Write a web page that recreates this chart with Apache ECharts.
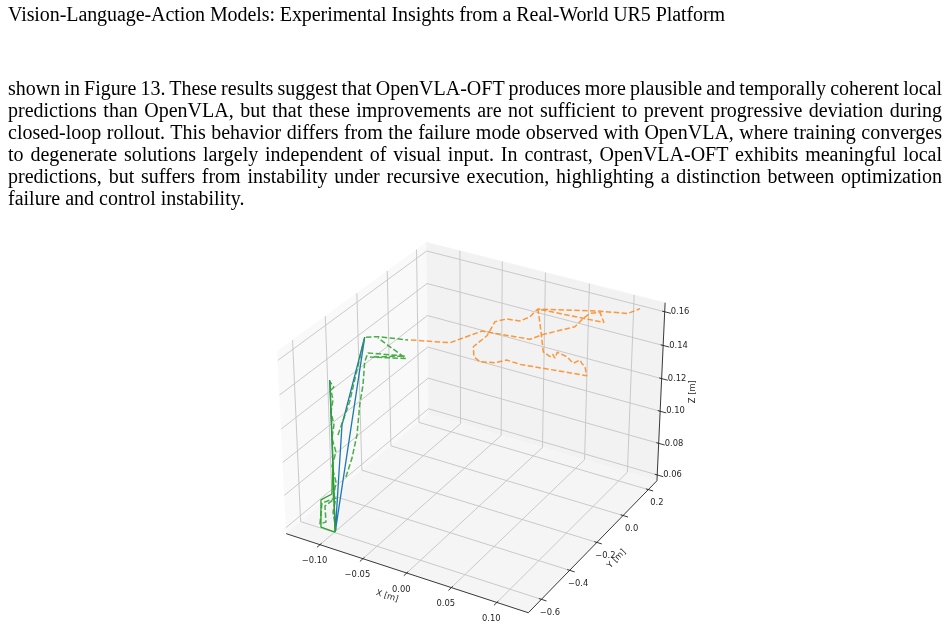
<!DOCTYPE html>
<html><head><meta charset="utf-8">
<script src="https://cdn.jsdelivr.net/npm/echarts@6/dist/echarts.min.js"></script>
<style>
html,body{margin:0;padding:0;background:#fff;width:949px;height:631px;overflow:hidden}
#chart{position:absolute;left:0;top:0;width:949px;height:631px}
#header{position:absolute;left:8px;top:3px;font-family:"Liberation Serif",serif;font-size:20px;line-height:22px;white-space:nowrap;color:#000;letter-spacing:-0.08px}
#para{position:absolute;left:8px;top:77px;width:934px;font-family:"Liberation Serif",serif;font-size:20px;line-height:22px;color:#000}
#para div{text-align:justify;text-align-last:justify;white-space:nowrap;word-spacing:-2.5px}
#para div.last{text-align-last:left;word-spacing:0}
</style></head>
<body>
<div id="chart"></div>
<div id="header">Vision-Language-Action Models: Experimental Insights from a Real-World UR5 Platform</div>
<div id="para">
<div>shown in Figure 13. These results suggest that OpenVLA-OFT produces more plausible and temporally coherent local</div>
<div>predictions than OpenVLA, but that these improvements are not sufficient to prevent progressive deviation during</div>
<div>closed-loop rollout. This behavior differs from the failure mode observed with OpenVLA, where training converges</div>
<div>to degenerate solutions largely independent of visual input. In contrast, OpenVLA-OFT exhibits meaningful local</div>
<div>predictions, but suffers from instability under recursive execution, highlighting a distinction between optimization</div>
<div class="last">failure and control instability.</div>
</div>
<script>
// ---------------- data (metres) ----------------
const xTicks = [-0.10, -0.05, 0.00, 0.05, 0.10];
const yTicks = [-0.6, -0.4, -0.2, 0.0, 0.2];
const zTicks = [0.06, 0.08, 0.10, 0.12, 0.14, 0.16];
const xTickLabels = ['\u22120.10', '\u22120.05', '0.00', '0.05', '0.10'];
const yTickLabels = ['\u22120.6', '\u22120.4', '\u22120.2', '0.0', '0.2'];
const zTickLabels = ['0.06', '0.08', '0.10', '0.12', '0.14', '0.16'];
const xLim = [-0.140, 0.134];
const yLim = [-0.69, 0.27];
const zLim = [0.0563, 0.1653];

const blueX = [-0.1368, -0.0946, -0.1175, -0.1152, -0.0946];
const blueY = [-0.4036, -0.6213, -0.2786, -0.4498, -0.6213];
const blueZ = [0.1283, 0.0595, 0.1478, 0.1079, 0.0595];

const greenSolidX = [-0.1364, -0.1143, -0.0948, -0.1080, -0.1147, -0.1067, -0.1143];
const greenSolidY = [-0.4046, -0.5178, -0.6222, -0.6390, -0.5985, -0.5705, -0.5178];
const greenSolidZ = [0.1279, 0.0920, 0.0593, 0.0616, 0.0739, 0.0766, 0.0920];

const greenDashAX = [-0.0944, -0.1014, -0.1023, -0.1131, -0.1096, -0.1049, -0.1098, -0.1044, -0.1063,
  -0.1136, -0.1137, -0.1206, -0.1221, -0.1278, -0.1291, -0.1333, -0.1315, -0.1361];
const greenDashAY = [-0.6175, -0.5957, -0.5696, -0.6013, -0.6362, -0.6228, -0.6006, -0.5777, -0.5456,
  -0.5285, -0.5006, -0.4866, -0.4636, -0.4493, -0.4279, -0.4164, -0.4067, -0.4061];
const greenDashAZ = [0.0603, 0.0684, 0.0748, 0.0725, 0.0630, 0.0639, 0.0711, 0.0739, 0.0820,
  0.0893, 0.0956, 0.1020, 0.1079, 0.1138, 0.1192, 0.1238, 0.1251, 0.1274];

const greenDashBX = [-0.1162, -0.1144, -0.1175, -0.1062, -0.0797];
const greenDashBY = [-0.4717, -0.4015, -0.2791, -0.2552, -0.2082];
const greenDashBZ = [0.1034, 0.1185, 0.1477, 0.1480, 0.1465];

const greenDashCX = [-0.0990, -0.0985, -0.0999, -0.1050, -0.1071, -0.1114, -0.1108, -0.0784, -0.1081, -0.0769, -0.1059];
const greenDashCY = [-0.5208, -0.4819, -0.4388, -0.3892, -0.3535, -0.3161, -0.2969, -0.2374, -0.2994, -0.2394, -0.2571];
const greenDashCZ = [0.0843, 0.0929, 0.1034, 0.1170, 0.1260, 0.1365, 0.1406, 0.1392, 0.1387, 0.1381, 0.1474];

const orangeX = [-0.0772, -0.0432, -0.0187, 0.0245, 0.0346, 0.0598, 0.0649, 0.0694, 0.0777, 0.0836,
  0.0238, 0.0307, 0.0389, 0.0459, 0.0476, 0.0505, 0.0510, 0.0602, 0.0674, 0.0724, 0.0746, 0.0782, 0.0820,
  0.0221, 0.0096, 0.0003, -0.0128, -0.0192, -0.0222, -0.0132, -0.0098, -0.0005, 0.0114, 0.0189, 0.0219,
  0.0238, 0.0756, 0.1019, 0.1110];
const orangeY = [-0.2030, -0.1396, -0.0667, 0.0040, 0.0345, 0.1007, 0.1277, 0.1468, 0.1656, 0.1572,
  0.0632, 0.0391, 0.0084, 0.0125, 0.0208, 0.0188, 0.0317, 0.0414, 0.0429, 0.0595, 0.0575, 0.0584, 0.0475,
  -0.0508, -0.0674, -0.0917, -0.1161, -0.1190, -0.1052, -0.0651, -0.0302, -0.0059, 0.0141, 0.0378, 0.0540,
  0.0632, 0.1640, 0.2122, 0.2405];
const orangeZ = [0.1465, 0.1452, 0.1505, 0.1468, 0.1490, 0.1525, 0.1563, 0.1586, 0.1590, 0.1544,
  0.1605, 0.1519, 0.1411, 0.1389, 0.1400, 0.1382, 0.1409, 0.1389, 0.1359, 0.1374, 0.1359, 0.1344, 0.1303,
  0.1354, 0.1374, 0.1362, 0.1366, 0.1389, 0.1434, 0.1484, 0.1548, 0.1560, 0.1551, 0.1570, 0.1593,
  0.1605, 0.1596, 0.1585, 0.1607];

// ---------------- matplotlib-like 3D projection ----------------
const D2R = Math.PI / 180, ELEV = 30 * D2R, AZIM = -60 * D2R, DIST = 10;
let AS = [4, 4, 3];
const asn = Math.hypot(AS[0], AS[1], AS[2]);
AS = AS.map(v => v * 1.8294640721620434 * 25 / 24 / asn);
const W3 = [Math.cos(ELEV) * Math.cos(AZIM), Math.cos(ELEV) * Math.sin(AZIM), Math.sin(ELEV)];
let U3 = [-W3[1], W3[0], 0];
const un = Math.hypot(U3[0], U3[1]);
U3 = U3.map(c => c / un);
const V3 = [W3[1] * U3[2] - W3[2] * U3[1], W3[2] * U3[0] - W3[0] * U3[2], W3[0] * U3[1] - W3[1] * U3[0]];
const dot = (a, b) => a[0] * b[0] + a[1] * b[1] + a[2] * b[2];
function proj(x, y, z) {
  const q = [(x - xLim[0]) / (xLim[1] - xLim[0]) * AS[0] - AS[0] / 2,
             (y - yLim[0]) / (yLim[1] - yLim[0]) * AS[1] - AS[1] / 2,
             (z - zLim[0]) / (zLim[1] - zLim[0]) * AS[2] - AS[2] / 2];
  const d = DIST - dot(q, W3);
  return [dot(q, U3) / d, dot(q, V3) / d];
}
const series3 = (X, Y, Z) => X.map((v, i) => proj(v, Y[i], Z[i]));

// ---------------- page placement of the 3D box ----------------
const PW = 949, PH = 631, SCALE = 2330, OX = 475, OY = 418.6;

const [x0, x1] = xLim, [y0, y1] = yLim, [z0, z1] = zLim;
const panes = [
  [[x0, y0, z0], [x0, y1, z0], [x0, y1, z1], [x0, y0, z1]],   // left pane (x = x0)
  [[x0, y1, z0], [x1, y1, z0], [x1, y1, z1], [x0, y1, z1]],   // back pane (y = y1)
  [[x0, y0, z0], [x1, y0, z0], [x1, y1, z0], [x0, y1, z0]]    // floor (z = z0)
];
const paneColors = ['#f9f9f9', '#f2f2f2', '#f5f5f5'];

const gridSegs = [];
xTicks.forEach(t => { gridSegs.push([[t, y0, z0], [t, y1, z0]]); gridSegs.push([[t, y1, z0], [t, y1, z1]]); });
yTicks.forEach(t => { gridSegs.push([[x0, t, z0], [x1, t, z0]]); gridSegs.push([[x0, t, z0], [x0, t, z1]]); });
zTicks.forEach(t => { gridSegs.push([[x0, y0, t], [x0, y1, t]]); gridSegs.push([[x0, y1, t], [x1, y1, t]]); });

const yr = y1 - y0, xr = x1 - x0;
const axisSegs = [
  [[x0, y0, z0], [x1, y0, z0]],
  [[x1, y0, z0], [x1, y1, z0]],
  [[x1, y1, z0], [x1, y1, z1]]
];
xTicks.forEach(t => axisSegs.push([[t, y0 + 0.01 * yr, z0], [t, y0 - 0.02 * yr, z0]]));
yTicks.forEach(t => axisSegs.push([[x1 - 0.01 * xr, t, z0], [x1 + 0.02 * xr, t, z0]]));
zTicks.forEach(t => axisSegs.push([[x1 - 0.01 * xr, y1, t], [x1 + 0.025 * xr, y1, t]]));

const toLines = segs => segs.map(s => ({ coords: [proj(...s[0]), proj(...s[1])] }));

// labels: [anchor point (3D), text, dx, dy, align, rotation]
const labels = [];
xTicks.forEach((t, i) => labels.push([[t, y0, z0], xTickLabels[i], -5.5, 16.5, 'center', 0]));
yTicks.forEach((t, i) => labels.push([[x1, t, z0], yTickLabels[i], 8.5, 13.5, 'center', 0]));
zTicks.forEach((t, i) => labels.push([[x1, y1, t], zTickLabels[i], 6, 0, 'left', 0]));
labels.push([[(x0 + x1) / 2, y0, z0], 'X [m]', -17, 24, 'center', -17.7 * D2R]);
labels.push([[x1, (y0 + y1) / 2, z0], 'Y [m]', 21, 15, 'center', 46 * D2R]);
labels.push([[x1, y1, (z0 + z1) / 2], 'Z [m]', 32, -2, 'center', 90 * D2R]);
const labelData = labels.map(l => proj(...l[0]));

const chart = echarts.init(document.getElementById('chart'), null, { renderer: 'canvas' });
const dashed = [5.5, 2.4];
const dataLine = (name, X, Y, Z, color, isDashed, op) => ({
  type: 'line', name, data: series3(X, Y, Z), showSymbol: false, z: 5,
  lineStyle: { color, width: isDashed ? 1.5 : 1.3, type: isDashed ? dashed : 'solid', opacity: op }
});
chart.setOption({
  animation: false,
  grid: { left: 0, right: 0, top: 0, bottom: 0 },
  xAxis: { type: 'value', min: -OX / SCALE, max: (PW - OX) / SCALE, show: false },
  yAxis: { type: 'value', min: (OY - PH) / SCALE, max: OY / SCALE, show: false },
  series: [
    {
      type: 'custom', silent: true, z: 1,
      data: panes.map((p, i) => [i]),
      renderItem: (params, api) => {
        const p = panes[params.dataIndex];
        return { type: 'polygon', shape: { points: p.map(c => api.coord(proj(...c))) },
                 style: { fill: paneColors[params.dataIndex], stroke: paneColors[params.dataIndex], lineWidth: 0.5 } };
      }
    },
    { type: 'lines', coordinateSystem: 'cartesian2d', silent: true, z: 2,
      data: toLines(gridSegs), lineStyle: { color: '#c4c4c4', width: 0.9, opacity: 1 } },
    { type: 'lines', coordinateSystem: 'cartesian2d', silent: true, z: 3,
      data: toLines(axisSegs), lineStyle: { color: '#222', width: 0.9, opacity: 1 } },
    {
      type: 'custom', silent: true, z: 4,
      data: labelData,
      renderItem: (params, api) => {
        const l = labels[params.dataIndex];
        const c = api.coord([api.value(0), api.value(1)]);
        return { type: 'text', x: c[0] + l[2], y: c[1] + l[3], rotation: l[5],
                 style: { text: l[1], fontSize: 8.4, fontFamily: 'DejaVu Sans', fill: '#262626',
                          align: l[4], verticalAlign: 'middle' } };
      }
    },
    dataLine('blue', blueX, blueY, blueZ, '#1f77b4', false, 1),
    dataLine('orange', orangeX, orangeY, orangeZ, '#ff7f0e', true, 0.8),
    dataLine('greenSolid', greenSolidX, greenSolidY, greenSolidZ, '#2ca02c', false, 1),
    dataLine('greenDashA', greenDashAX, greenDashAY, greenDashAZ, '#2ca02c', true, 0.85),
    dataLine('greenDashB', greenDashBX, greenDashBY, greenDashBZ, '#2ca02c', true, 0.85),
    dataLine('greenDashC', greenDashCX, greenDashCY, greenDashCZ, '#2ca02c', true, 0.85)
  ]
});
</script>
</body></html>
